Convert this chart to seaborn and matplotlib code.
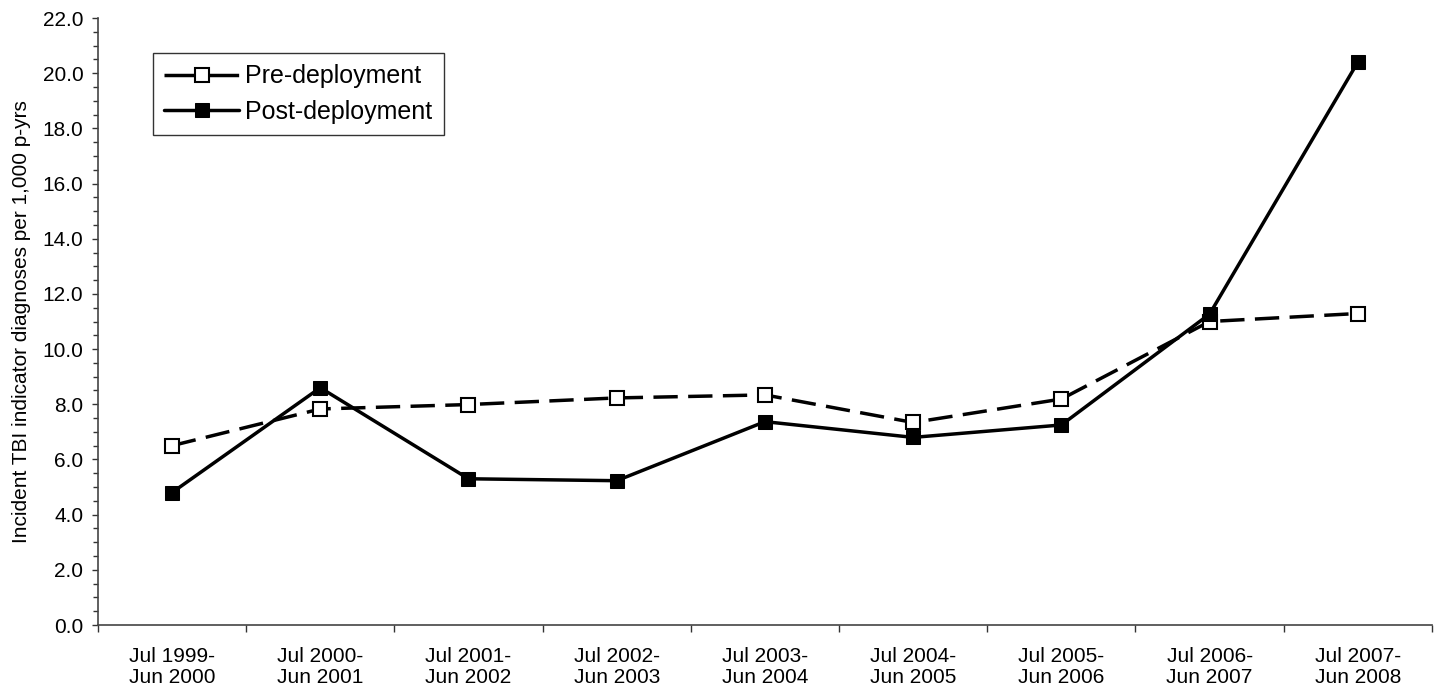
import numpy as np
import pandas as pd
import matplotlib
matplotlib.use('Agg')
import matplotlib.pyplot as plt
import seaborn as sns
from matplotlib.ticker import MultipleLocator, FormatStrFormatter

# 数据：每个年度区间的TBI诊断率
periods = ['Jul 1999-\nJun 2000', 'Jul 2000-\nJun 2001', 'Jul 2001-\nJun 2002',
           'Jul 2002-\nJun 2003', 'Jul 2003-\nJun 2004', 'Jul 2004-\nJun 2005',
           'Jul 2005-\nJun 2006', 'Jul 2006-\nJun 2007', 'Jul 2007-\nJun 2008']
pre_deploy = [6.50, 7.83, 7.99, 8.23, 8.34, 7.34, 8.19, 11.0, 11.29]
post_deploy = [4.80, 8.60, 5.30, 5.23, 7.37, 6.80, 7.25, 11.27, 20.4]

sns.set_theme(style='white')
plt.rcParams['font.family'] = ['Liberation Sans', 'DejaVu Sans']
plt.rcParams['text.color'] = 'black'
plt.rcParams['axes.labelcolor'] = 'black'
plt.rcParams['xtick.color'] = 'black'
plt.rcParams['ytick.color'] = 'black'

df = pd.DataFrame({'pos': np.arange(len(periods)), 'pre': pre_deploy, 'post': post_deploy})

fig = plt.figure(figsize=(14.4, 6.9), dpi=100)
ax = fig.add_axes([0.068, 0.0942, 0.9264, 0.8797])

sns.lineplot(data=df, x='pos', y='pre', ax=ax, color='black', lw=2.5,
             marker='s', markersize=10, markerfacecolor='white', markeredgecolor='black',
             markeredgewidth=1.5, label='Pre-deployment')
ax.lines[-1].set_dashes((7, 3))
sns.lineplot(data=df, x='pos', y='post', ax=ax, color='black', lw=2.5,
             marker='s', markersize=10, markerfacecolor='black', markeredgecolor='black',
             label='Post-deployment')

ax.set_xlim(-0.5, len(periods) - 0.5)
ax.set_ylim(0, 22)
ax.yaxis.set_major_locator(MultipleLocator(2))
ax.yaxis.set_minor_locator(MultipleLocator(0.5))
ax.yaxis.set_major_formatter(FormatStrFormatter('%.1f'))

# x轴：刻度线在区间边界，标签在区间中间
ax.set_xticks(np.arange(len(periods) + 1) - 0.5)
ax.set_xticklabels([''] * (len(periods) + 1))
ax.set_xticks(np.arange(len(periods)), minor=True)
ax.set_xticklabels(periods, minor=True, fontsize=15, linespacing=1.1)
ax.tick_params(axis='x', which='major', direction='out', length=5, width=1, color='#333333', bottom=True)
ax.tick_params(axis='x', which='minor', length=0, pad=16)
ax.tick_params(axis='y', which='major', direction='out', length=4.5, width=1, color='#333333',
               left=True, labelsize=15, pad=6)
ax.tick_params(axis='y', which='minor', direction='out', length=3.5, width=1, color='#333333', left=True)

for s in ['top', 'right']:
    ax.spines[s].set_visible(False)
for s in ['left', 'bottom']:
    ax.spines[s].set_color('#444444')
    ax.spines[s].set_linewidth(1.2)

ax.set_xlabel('')
ax.set_ylabel('Incident TBI indicator diagnoses per 1,000 p-yrs', fontsize=15)
ax.yaxis.set_label_coords(-0.05, 0.5)

leg = ax.legend(loc='upper left', bbox_to_anchor=(0.0412, 0.942), borderaxespad=0, fontsize=18,
                frameon=True, fancybox=False, handlelength=3.0, handletextpad=0.25,
                borderpad=0.45, labelspacing=0.45)
leg.get_frame().set_edgecolor('black')
leg.get_frame().set_linewidth(1)
# 图例里的虚线：两段长划线夹着标记
leg.get_lines()[0].set_dashes((9.5, 2.5))

fig.savefig('out.png', dpi=100)
